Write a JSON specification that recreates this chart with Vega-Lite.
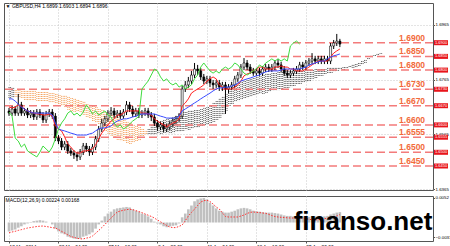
{
"$schema": "https://vega.github.io/schema/vega-lite/v6.json",
"autosize": {"type": "pad"},
"padding": {"left": 2, "top": 2, "right": 0, "bottom": 0},
"background": "white",
"spacing": 2,
"config": {
 "view": {"stroke": "#555555", "strokeWidth": 1},
 "font": "Liberation Sans"
},
"datasets": {
 "d": [
{"i":0,"o":1.6651,"h":1.6662,"l":1.6633,"c":1.6643,"t":1.6665,"k":1.6695,"g":1.6647,"a":1.6738,"b":1.6698,"z":"u","m":-0.0019,"s":-0.00218},
{"i":2,"o":1.6643,"h":1.6669,"l":1.6633,"c":1.6658,"t":1.6662,"k":1.6695,"g":1.6632,"a":1.6735,"b":1.6698,"z":"u","m":-0.0017,"s":-0.00201},
{"i":4,"o":1.6658,"h":1.6669,"l":1.6633,"c":1.6643,"t":1.6665,"k":1.6687,"g":1.6552,"a":1.6727,"b":1.6702,"z":"d","m":-0.0015,"s":-0.00187},
{"i":6,"o":1.6643,"h":1.6713,"l":1.6633,"c":1.6673,"t":1.6673,"k":1.6676,"g":1.6541,"a":1.6727,"b":1.6698,"z":"d","m":-0.0011,"s":-0.00167},
{"i":8,"o":1.6673,"h":1.6684,"l":1.6633,"c":1.6643,"t":1.6669,"k":1.6665,"g":1.6519,"a":1.6724,"b":1.6695,"z":"d","m":-0.0008,"s":-0.00151},
{"i":10,"o":1.6643,"h":1.6662,"l":1.6633,"c":1.6651,"t":1.6658,"k":1.6658,"g":1.6530,"a":1.6724,"b":1.6691,"z":"d","m":-0.0004,"s":-0.00134},
{"i":12,"o":1.6651,"h":1.6662,"l":1.6625,"c":1.6636,"t":1.6651,"k":1.6651,"g":1.6505,"a":1.6724,"b":1.6687,"z":"d","m":-0.0002,"s":-0.00117},
{"i":14,"o":1.6636,"h":1.6654,"l":1.6625,"c":1.6643,"t":1.6647,"k":1.6647,"g":1.6497,"a":1.6724,"b":1.6687,"z":"d","m":0.0001,"s":-0.00106},
{"i":16,"o":1.6643,"h":1.6654,"l":1.6618,"c":1.6629,"t":1.6643,"k":1.6643,"g":1.6490,"a":1.6724,"b":1.6687,"z":"d","m":0.0003,"s":-0.00095},
{"i":18,"o":1.6629,"h":1.6658,"l":1.6618,"c":1.6647,"t":1.6640,"k":1.6643,"g":1.6483,"a":1.6720,"b":1.6687,"z":"d","m":0.0004,"s":-0.00085},
{"i":20,"o":1.6647,"h":1.6658,"l":1.6625,"c":1.6636,"t":1.6640,"k":1.6643,"g":1.6501,"a":1.6720,"b":1.6684,"z":"d","m":0.0005,"s":-0.00078},
{"i":22,"o":1.6636,"h":1.6647,"l":1.6607,"c":1.6618,"t":1.6636,"k":1.6643,"g":1.6523,"a":1.6720,"b":1.6684,"z":"d","m":0.0004,"s":-0.00074},
{"i":24,"o":1.6618,"h":1.6651,"l":1.6607,"c":1.6640,"t":1.6636,"k":1.6643,"g":1.6512,"a":1.6720,"b":1.6684,"z":"d","m":0.0002,"s":-0.00085},
{"i":26,"o":1.6640,"h":1.6658,"l":1.6629,"c":1.6647,"t":1.6640,"k":1.6643,"g":1.6501,"a":1.6716,"b":1.6680,"z":"d","m":0,"s":-0.00095},
{"i":28,"o":1.6647,"h":1.6658,"l":1.6622,"c":1.6632,"t":1.6632,"k":1.6636,"g":1.6519,"a":1.6716,"b":1.6680,"z":"d","m":-0.0004,"s":-0.0011},
{"i":30,"o":1.6632,"h":1.6643,"l":1.6541,"c":1.6552,"t":1.6596,"k":1.6607,"g":1.6549,"a":1.6713,"b":1.6676,"z":"d","m":-0.0013,"s":-0.00117},
{"i":32,"o":1.6552,"h":1.6563,"l":1.6530,"c":1.6541,"t":1.6585,"k":1.6585,"g":1.6585,"a":1.6709,"b":1.6673,"z":"d","m":-0.0019,"s":-0.0015},
{"i":34,"o":1.6541,"h":1.6552,"l":1.6508,"c":1.6519,"t":1.6578,"k":1.6581,"g":1.6607,"a":1.6706,"b":1.6669,"z":"d","m":-0.0023,"s":-0.00187},
{"i":36,"o":1.6519,"h":1.6541,"l":1.6508,"c":1.6530,"t":1.6556,"k":1.6578,"g":1.6622,"a":1.6706,"b":1.6662,"z":"d","m":-0.0025,"s":-0.00223},
{"i":38,"o":1.6530,"h":1.6541,"l":1.6494,"c":1.6505,"t":1.6530,"k":1.6574,"g":1.6643,"a":1.6702,"b":1.6654,"z":"d","m":-0.0030,"s":-0.0026},
{"i":40,"o":1.6505,"h":1.6516,"l":1.6487,"c":1.6497,"t":1.6519,"k":1.6570,"g":1.6651,"a":1.6698,"b":1.6651,"z":"d","m":-0.0032,"s":-0.00297},
{"i":42,"o":1.6497,"h":1.6508,"l":1.6476,"c":1.6490,"t":1.6505,"k":1.6567,"g":1.6636,"a":1.6695,"b":1.6647,"z":"d","m":-0.0034,"s":-0.00316},
{"i":44,"o":1.6490,"h":1.6501,"l":1.6468,"c":1.6483,"t":1.6497,"k":1.6563,"g":1.6643,"a":1.6691,"b":1.6647,"z":"d","m":-0.0035,"s":-0.00333},
{"i":46,"o":1.6483,"h":1.6512,"l":1.6472,"c":1.6501,"t":1.6497,"k":1.6563,"g":1.6632,"a":1.6687,"b":1.6643,"z":"d","m":-0.0034,"s":-0.00346},
{"i":48,"o":1.6501,"h":1.6534,"l":1.6490,"c":1.6523,"t":1.6505,"k":1.6563,"g":1.6647,"a":1.6684,"b":1.6636,"z":"d","m":-0.0030,"s":-0.00348},
{"i":50,"o":1.6523,"h":1.6534,"l":1.6501,"c":1.6512,"t":1.6505,"k":1.6563,"g":1.6673,"a":1.6676,"b":1.6629,"z":"d","m":-0.0028,"s":-0.00331},
{"i":52,"o":1.6512,"h":1.6523,"l":1.6487,"c":1.6501,"t":1.6508,"k":1.6567,"g":1.6658,"a":1.6673,"b":1.6622,"z":"d","m":-0.0025,"s":-0.00318},
{"i":54,"o":1.6501,"h":1.6530,"l":1.6490,"c":1.6519,"t":1.6512,"k":1.6570,"g":1.6640,"a":1.6669,"b":1.6614,"z":"d","m":-0.0021,"s":-0.00286},
{"i":56,"o":1.6519,"h":1.6560,"l":1.6508,"c":1.6549,"t":1.6527,"k":1.6578,"g":1.6651,"a":1.6665,"b":1.6607,"z":"d","m":-0.0013,"s":-0.00229},
{"i":58,"o":1.6549,"h":1.6596,"l":1.6538,"c":1.6585,"t":1.6549,"k":1.6585,"g":1.6636,"a":1.6658,"b":1.6600,"z":"d","m":-0.0004,"s":-0.0017},
{"i":60,"o":1.6585,"h":1.6622,"l":1.6574,"c":1.6607,"t":1.6570,"k":1.6589,"g":1.6643,"a":1.6654,"b":1.6592,"z":"d","m":0.0004,"s":-0.00108},
{"i":62,"o":1.6607,"h":1.6633,"l":1.6596,"c":1.6622,"t":1.6585,"k":1.6589,"g":1.6651,"a":1.6647,"b":1.6578,"z":"d","m":0.0013,"s":-0.00042},
{"i":64,"o":1.6622,"h":1.6654,"l":1.6611,"c":1.6643,"t":1.6600,"k":1.6592,"g":1.6636,"a":1.6643,"b":1.6567,"z":"d","m":0.0019,"s":0.00028},
{"i":66,"o":1.6643,"h":1.6665,"l":1.6633,"c":1.6651,"t":1.6614,"k":1.6596,"g":1.6629,"a":1.6636,"b":1.6560,"z":"d","m":0.0023,"s":0.00095},
{"i":68,"o":1.6651,"h":1.6662,"l":1.6625,"c":1.6636,"t":1.6622,"k":1.6607,"g":1.6607,"a":1.6632,"b":1.6552,"z":"d","m":0.0028,"s":0.00159},
{"i":70,"o":1.6636,"h":1.6654,"l":1.6625,"c":1.6643,"t":1.6636,"k":1.6614,"g":1.6592,"a":1.6629,"b":1.6545,"z":"d","m":0.0030,"s":0.00223},
{"i":72,"o":1.6643,"h":1.6654,"l":1.6622,"c":1.6632,"t":1.6636,"k":1.6618,"g":1.6600,"a":1.6622,"b":1.6541,"z":"d","m":0.0031,"s":0.00244},
{"i":74,"o":1.6632,"h":1.6658,"l":1.6622,"c":1.6647,"t":1.6643,"k":1.6622,"g":1.6585,"a":1.6618,"b":1.6538,"z":"d","m":0.0032,"s":0.00259},
{"i":76,"o":1.6647,"h":1.6687,"l":1.6636,"c":1.6673,"t":1.6651,"k":1.6622,"g":1.6592,"a":1.6611,"b":1.6534,"z":"d","m":0.0033,"s":0.00273},
{"i":78,"o":1.6673,"h":1.6684,"l":1.6647,"c":1.6658,"t":1.6651,"k":1.6625,"g":1.6603,"a":1.6607,"b":1.6530,"z":"d","m":0.0032,"s":0.00282},
{"i":80,"o":1.6658,"h":1.6669,"l":1.6629,"c":1.6640,"t":1.6651,"k":1.6629,"g":1.6614,"a":1.6600,"b":1.6534,"z":"d","m":0.0028,"s":0.00273},
{"i":82,"o":1.6640,"h":1.6662,"l":1.6629,"c":1.6651,"t":1.6651,"k":1.6632,"g":1.6622,"a":1.6596,"b":1.6538,"z":"d","m":0.0025,"s":0.00252},
{"i":84,"o":1.6651,"h":1.6662,"l":1.6625,"c":1.6636,"t":1.6651,"k":1.6636,"g":1.6632,"a":1.6592,"b":1.6541,"z":"d","m":0.0023,"s":0.00231},
{"i":86,"o":1.6636,"h":1.6654,"l":1.6625,"c":1.6643,"t":1.6643,"k":1.6640,"g":1.6731,"a":1.6585,"b":1.6552,"z":"d","m":0.0019,"s":0.00208},
{"i":88,"o":1.6643,"h":1.6662,"l":1.6633,"c":1.6651,"t":1.6643,"k":1.6640,"g":1.6746,"a":1.6578,"b":1.6563,"z":"d","m":0.0017,"s":0.0018},
{"i":90,"o":1.6651,"h":1.6662,"l":1.6625,"c":1.6636,"t":1.6640,"k":1.6640,"g":1.6760,"a":1.6585,"b":1.6563,"z":"u","m":0.0013,"s":0.00155},
{"i":92,"o":1.6636,"h":1.6647,"l":1.6614,"c":1.6629,"t":1.6636,"k":1.6640,"g":1.6782,"a":1.6600,"b":1.6563,"z":"u","m":0.0008,"s":0.00129},
{"i":94,"o":1.6629,"h":1.6640,"l":1.6596,"c":1.6607,"t":1.6622,"k":1.6640,"g":1.6804,"a":1.6607,"b":1.6563,"z":"u","m":0.0002,"s":0.00095},
{"i":96,"o":1.6607,"h":1.6618,"l":1.6578,"c":1.6592,"t":1.6614,"k":1.6636,"g":1.6797,"a":1.6611,"b":1.6567,"z":"u","m":-0.0002,"s":0.00053},
{"i":98,"o":1.6592,"h":1.6611,"l":1.6581,"c":1.6600,"t":1.6607,"k":1.6632,"g":1.6775,"a":1.6614,"b":1.6567,"z":"u","m":-0.0004,"s":0.00015},
{"i":100,"o":1.6600,"h":1.6611,"l":1.6574,"c":1.6585,"t":1.6600,"k":1.6629,"g":1.6760,"a":1.6618,"b":1.6567,"z":"u","m":-0.0008,"s":-0.00023},
{"i":102,"o":1.6585,"h":1.6603,"l":1.6574,"c":1.6592,"t":1.6592,"k":1.6625,"g":1.6768,"a":1.6622,"b":1.6570,"z":"u","m":-0.0010,"s":-0.00064},
{"i":104,"o":1.6592,"h":1.6614,"l":1.6581,"c":1.6603,"t":1.6600,"k":1.6625,"g":1.6753,"a":1.6625,"b":1.6570,"z":"u","m":-0.0008,"s":-0.00095},
{"i":106,"o":1.6603,"h":1.6625,"l":1.6592,"c":1.6614,"t":1.6607,"k":1.6625,"g":1.6746,"a":1.6629,"b":1.6570,"z":"u","m":-0.0007,"s":-0.00108},
{"i":108,"o":1.6614,"h":1.6633,"l":1.6603,"c":1.6622,"t":1.6611,"k":1.6625,"g":1.6753,"a":1.6632,"b":1.6574,"z":"u","m":-0.0006,"s":-0.00108},
{"i":110,"o":1.6622,"h":1.6643,"l":1.6611,"c":1.6632,"t":1.6622,"k":1.6632,"g":1.6738,"a":1.6640,"b":1.6574,"z":"u","m":-0.0002,"s":-0.00081},
{"i":112,"o":1.6632,"h":1.6742,"l":1.6622,"c":1.6731,"t":1.6669,"k":1.6651,"g":1.6746,"a":1.6647,"b":1.6578,"z":"u","m":0.0011,"s":-0.00053},
{"i":114,"o":1.6731,"h":1.6760,"l":1.6720,"c":1.6746,"t":1.6680,"k":1.6658,"g":1.6731,"a":1.6647,"b":1.6581,"z":"u","m":0.0019,"s":0.00036},
{"i":116,"o":1.6746,"h":1.6775,"l":1.6735,"c":1.6760,"t":1.6695,"k":1.6665,"g":1.6738,"a":1.6651,"b":1.6581,"z":"u","m":0.0028,"s":0.00138},
{"i":118,"o":1.6760,"h":1.6797,"l":1.6749,"c":1.6782,"t":1.6716,"k":1.6673,"g":1.6746,"a":1.6651,"b":1.6585,"z":"u","m":0.0036,"s":0.00212},
{"i":120,"o":1.6782,"h":1.6826,"l":1.6771,"c":1.6804,"t":1.6724,"k":1.6680,"g":1.6768,"a":1.6654,"b":1.6589,"z":"u","m":0.0045,"s":0.00286},
{"i":122,"o":1.6804,"h":1.6819,"l":1.6782,"c":1.6797,"t":1.6731,"k":1.6687,"g":1.6782,"a":1.6654,"b":1.6592,"z":"u","m":0.0049,"s":0.0036},
{"i":124,"o":1.6797,"h":1.6808,"l":1.6764,"c":1.6775,"t":1.6738,"k":1.6695,"g":1.6811,"a":1.6658,"b":1.6596,"z":"u","m":0.0051,"s":0.00435},
{"i":126,"o":1.6775,"h":1.6786,"l":1.6749,"c":1.6760,"t":1.6746,"k":1.6702,"g":1.6826,"a":1.6662,"b":1.6596,"z":"u","m":0.0052,"s":0.00462},
{"i":128,"o":1.6760,"h":1.6779,"l":1.6749,"c":1.6768,"t":1.6760,"k":1.6709,"g":1.6811,"a":1.6665,"b":1.6600,"z":"u","m":0.0049,"s":0.00473},
{"i":130,"o":1.6768,"h":1.6779,"l":1.6738,"c":1.6753,"t":1.6768,"k":1.6716,"g":1.6797,"a":1.6669,"b":1.6603,"z":"u","m":0.0042,"s":0.00445},
{"i":132,"o":1.6753,"h":1.6764,"l":1.6731,"c":1.6746,"t":1.6775,"k":1.6724,"g":1.6789,"a":1.6680,"b":1.6611,"z":"u","m":0.0036,"s":0.00392},
{"i":134,"o":1.6746,"h":1.6764,"l":1.6735,"c":1.6753,"t":1.6768,"k":1.6731,"g":1.6797,"a":1.6687,"b":1.6618,"z":"u","m":0.0030,"s":0.00329},
{"i":136,"o":1.6753,"h":1.6764,"l":1.6724,"c":1.6738,"t":1.6746,"k":1.6735,"g":1.6789,"a":1.6695,"b":1.6625,"z":"u","m":0.0025,"s":0.00286},
{"i":138,"o":1.6738,"h":1.6757,"l":1.6724,"c":1.6746,"t":1.6738,"k":1.6735,"g":1.6804,"a":1.6702,"b":1.6636,"z":"u","m":0.0023,"s":0.00206},
{"i":140,"o":1.6746,"h":1.6757,"l":1.6640,"c":1.6731,"t":1.6731,"k":1.6738,"g":1.6811,"a":1.6713,"b":1.6651,"z":"u","m":0.0021,"s":0.00127},
{"i":142,"o":1.6731,"h":1.6749,"l":1.6716,"c":1.6738,"t":1.6731,"k":1.6738,"g":1.6804,"a":1.6731,"b":1.6669,"z":"u","m":0.0021,"s":0.00117},
{"i":144,"o":1.6738,"h":1.6757,"l":1.6727,"c":1.6746,"t":1.6731,"k":1.6742,"g":1.6811,"a":1.6746,"b":1.6676,"z":"u","m":0.0023,"s":0.00117},
{"i":146,"o":1.6746,"h":1.6779,"l":1.6735,"c":1.6768,"t":1.6738,"k":1.6746,"g":1.6826,"a":1.6749,"b":1.6684,"z":"u","m":0.0025,"s":0.00117},
{"i":148,"o":1.6768,"h":1.6793,"l":1.6757,"c":1.6782,"t":1.6746,"k":1.6753,"g":1.6819,"a":1.6753,"b":1.6687,"z":"u","m":0.0028,"s":0.00117},
{"i":150,"o":1.6782,"h":1.6822,"l":1.6771,"c":1.6811,"t":1.6760,"k":1.6760,"g":1.6804,"a":1.6757,"b":1.6691,"z":"u","m":0.0030,"s":0.00138},
{"i":152,"o":1.6811,"h":1.6844,"l":1.6800,"c":1.6826,"t":1.6779,"k":1.6764,"g":1.6789,"a":1.6760,"b":1.6695,"z":"u","m":0.0031,"s":0.00159},
{"i":154,"o":1.6826,"h":1.6837,"l":1.6800,"c":1.6811,"t":1.6786,"k":1.6768,"g":1.6782,"a":1.6764,"b":1.6698,"z":"u","m":0.0030,"s":0.00191},
{"i":156,"o":1.6811,"h":1.6822,"l":1.6786,"c":1.6797,"t":1.6789,"k":1.6771,"g":1.6789,"a":1.6768,"b":1.6702,"z":"u","m":0.0028,"s":0.00216},
{"i":158,"o":1.6797,"h":1.6808,"l":1.6779,"c":1.6789,"t":1.6797,"k":1.6775,"g":1.6797,"a":1.6771,"b":1.6706,"z":"u","m":0.0025,"s":0.00223},
{"i":160,"o":1.6789,"h":1.6808,"l":1.6779,"c":1.6797,"t":1.6804,"k":1.6779,"g":1.6804,"a":1.6775,"b":1.6709,"z":"u","m":0.0024,"s":0.00216},
{"i":162,"o":1.6797,"h":1.6808,"l":1.6779,"c":1.6789,"t":1.6811,"k":1.6782,"g":1.6819,"a":1.6779,"b":1.6713,"z":"u","m":0.0023,"s":0.0021},
{"i":164,"o":1.6789,"h":1.6815,"l":1.6779,"c":1.6804,"t":1.6811,"k":1.6789,"g":1.6811,"a":1.6782,"b":1.6713,"z":"u","m":0.0022,"s":0.00201},
{"i":166,"o":1.6804,"h":1.6822,"l":1.6793,"c":1.6811,"t":1.6804,"k":1.6793,"g":1.6826,"a":1.6786,"b":1.6716,"z":"u","m":0.0021,"s":0.00195},
{"i":168,"o":1.6811,"h":1.6822,"l":1.6793,"c":1.6804,"t":1.6804,"k":1.6797,"g":1.6833,"a":1.6786,"b":1.6720,"z":"u","m":0.0021,"s":0.00172},
{"i":170,"o":1.6804,"h":1.6822,"l":1.6793,"c":1.6811,"t":1.6804,"k":1.6797,"g":1.6841,"a":1.6789,"b":1.6724,"z":"u","m":0.0021,"s":0.00148},
{"i":172,"o":1.6811,"h":1.6837,"l":1.6800,"c":1.6826,"t":1.6811,"k":1.6797,"g":1.6833,"a":1.6789,"b":1.6727,"z":"u","m":0.0020,"s":0.00127},
{"i":174,"o":1.6826,"h":1.6841,"l":1.6808,"c":1.6819,"t":1.6811,"k":1.6797,"g":1.6841,"a":1.6793,"b":1.6727,"z":"u","m":0.0019,"s":0.00117},
{"i":176,"o":1.6819,"h":1.6830,"l":1.6793,"c":1.6804,"t":1.6815,"k":1.6800,"g":1.6833,"a":1.6793,"b":1.6731,"z":"u","m":0.0017,"s":0.0011},
{"i":178,"o":1.6804,"h":1.6815,"l":1.6779,"c":1.6789,"t":1.6811,"k":1.6804,"g":1.6841,"a":1.6797,"b":1.6735,"z":"u","m":0.0015,"s":0.00106},
{"i":180,"o":1.6789,"h":1.6800,"l":1.6771,"c":1.6782,"t":1.6811,"k":1.6804,"g":1.6833,"a":1.6797,"b":1.6735,"z":"u","m":0.0014,"s":0.001},
{"i":182,"o":1.6782,"h":1.6800,"l":1.6771,"c":1.6789,"t":1.6804,"k":1.6804,"g":1.6888,"a":1.6797,"b":1.6738,"z":"u","m":0.0014,"s":0.00095},
{"i":184,"o":1.6789,"h":1.6808,"l":1.6779,"c":1.6797,"t":1.6804,"k":1.6804,"g":1.6899,"a":1.6797,"b":1.6742,"z":"u","m":0.0013,"s":0.00095},
{"i":186,"o":1.6797,"h":1.6815,"l":1.6786,"c":1.6804,"t":1.6797,"k":1.6804,"g":1.6906,"a":1.6797,"b":1.6746,"z":"u","m":0.0013,"s":0.00095},
{"i":188,"o":1.6804,"h":1.6830,"l":1.6793,"c":1.6819,"t":1.6797,"k":1.6804,"g":1.6895,"a":1.6797,"b":1.6749,"z":"u","m":0.0014,"s":0.00095},
{"i":190,"o":1.6819,"h":1.6830,"l":1.6800,"c":1.6811,"t":1.6797,"k":1.6808,"a":1.6797,"b":1.6753,"z":"u","m":0.0013,"s":0.00095},
{"i":192,"o":1.6811,"h":1.6837,"l":1.6800,"c":1.6826,"t":1.6804,"k":1.6811,"a":1.6800,"b":1.6757,"z":"u","m":0.0012,"s":0.00083},
{"i":194,"o":1.6826,"h":1.6844,"l":1.6815,"c":1.6833,"t":1.6811,"k":1.6819,"a":1.6800,"b":1.6760,"z":"u","m":0.0012,"s":0.00068},
{"i":196,"o":1.6833,"h":1.6862,"l":1.6822,"c":1.6841,"t":1.6819,"k":1.6822,"a":1.6800,"b":1.6768,"z":"u","m":0.0013,"s":0.00059},
{"i":198,"o":1.6841,"h":1.6852,"l":1.6822,"c":1.6833,"t":1.6826,"k":1.6826,"a":1.6804,"b":1.6771,"z":"u","m":0.0013,"s":0.00053},
{"i":200,"o":1.6833,"h":1.6852,"l":1.6822,"c":1.6841,"t":1.6833,"k":1.6830,"a":1.6804,"b":1.6775,"z":"u","m":0.0012,"s":0.00059},
{"i":202,"o":1.6841,"h":1.6852,"l":1.6822,"c":1.6833,"t":1.6833,"k":1.6833,"a":1.6804,"b":1.6779,"z":"u","m":0.0012,"s":0.0007},
{"i":204,"o":1.6833,"h":1.6852,"l":1.6822,"c":1.6841,"t":1.6833,"k":1.6833,"a":1.6804,"b":1.6782,"z":"u","m":0.0013,"s":0.00081},
{"i":206,"o":1.6841,"h":1.6852,"l":1.6822,"c":1.6833,"t":1.6833,"k":1.6841,"a":1.6808,"b":1.6786,"z":"u","m":0.0014,"s":0.00091},
{"i":208,"o":1.6833,"h":1.6899,"l":1.6822,"c":1.6888,"t":1.6848,"k":1.6848,"a":1.6808,"b":1.6789,"z":"u","m":0.0017,"s":0.001},
{"i":210,"o":1.6888,"h":1.6910,"l":1.6877,"c":1.6899,"t":1.6862,"k":1.6852,"a":1.6808,"b":1.6793,"z":"u","m":0.0019,"s":0.00117},
{"i":212,"o":1.6899,"h":1.6932,"l":1.6888,"c":1.6906,"t":1.6870,"k":1.6855,"a":1.6808,"b":1.6797,"z":"u","m":0.0021,"s":0.00138},
{"i":214,"o":1.6906,"h":1.6914,"l":1.6884,"c":1.6895,"t":1.6877,"k":1.6859,"a":1.6808,"b":1.6800,"z":"u","m":0.0022,"s":0.00168},
{"i":216,"a":1.6811,"b":1.6800,"z":"u"},
{"i":218,"a":1.6811,"b":1.6804,"z":"u"},
{"i":220,"a":1.6815,"b":1.6808,"z":"u"},
{"i":222,"a":1.6819,"b":1.6808,"z":"u"},
{"i":224,"a":1.6822,"b":1.6811,"z":"u"},
{"i":226,"a":1.6826,"b":1.6815,"z":"u"},
{"i":228,"a":1.6833,"b":1.6822,"z":"u"},
{"i":230,"a":1.6837,"b":1.6826,"z":"u"},
{"i":232,"a":1.6844,"b":1.6837,"z":"u"},
{"i":234,"a":1.6852,"b":1.6844,"z":"u"},
{"i":236,"a":1.6855,"b":1.6848,"z":"u"},
{"i":238,"a":1.6859,"b":1.6855,"z":"u"},
{"i":240,"a":1.6862,"b":1.6859,"z":"u"}
 ],
 "lv": [
  {"v":1.69,"t":"1.6900"},{"v":1.685,"t":"1.6850"},{"v":1.68,"t":"1.6800"},{"v":1.673,"t":"1.6730"},{"v":1.667,"t":"1.6670"},{"v":1.66,"t":"1.6600"},{"v":1.6555,"t":"1.6555"},{"v":1.65,"t":"1.6500"},{"v":1.645,"t":"1.6450"}
 ],
 "cap": [{"t":"▼ GBPUSD,H4  1.6899 1.6903 1.6894 1.6896"}],
 "mcap": [{"t":"MACD(12,26,9) 0.00224 0.00168"}],
 "wm": [{"t":"finanso.net"}]
},
"vconcat": [
 {
  "width": 429, "height": 187,
  "data": {"name": "d"},
  "layer": [
   {"transform": [{"filter": "isValid(datum.a)"}],
    "mark": {"type": "rule", "strokeDash": [1, 1], "strokeWidth": 1},
    "encoding": {
     "x": {"field": "i", "type": "quantitative", "scale": {"domain": [0, 271], "nice": false, "zero": false},
       "axis": {"values": [0,16,32,48,64,80,96,112,128,144,160,176,192,208], "labels": false, "ticks": false, "domain": false, "grid": true, "gridColor": "#c8c8c8", "gridDash": [1, 2], "title": null}},
     "y": {"field": "a", "type": "quantitative", "scale": {"domain": [1.63624, 1.70449], "nice": false, "zero": false},
       "axis": {"orient": "right", "values": [1.6365,1.6415,1.6465,1.6515,1.6565,1.6615,1.6665,1.6715,1.6765,1.6815,1.6865,1.6915,1.6965,1.7015], "format": ".4f", "grid": true, "gridColor": "#c8c8c8", "gridDash": [1, 2], "domain": false, "tickSize": 1.5, "tickColor": "#555555", "labelFontSize": 4.4, "labelPadding": 0.5, "labelColor": "#000000", "labelFont": "Liberation Sans", "labelOverlap": false, "labelBound": false, "title": null}},
     "y2": {"field": "b"},
     "color": {"field": "z", "type": "nominal", "scale": {"domain": ["u", "d"], "range": ["#5a5a5a", "#f4a460"]}, "legend": null}
    }},
   {"transform": [{"filter": "isValid(datum.a)"}],
    "mark": {"type": "rule", "strokeDash": [1, 1], "strokeWidth": 1, "xOffset": 1.6},
    "encoding": {
     "x": {"field": "i", "type": "quantitative"},
     "y": {"field": "a", "type": "quantitative"},
     "y2": {"field": "b"},
     "color": {"field": "z", "type": "nominal", "legend": null}
    }},
   {"data": {"name": "lv"},
    "mark": {"type": "rule", "color": "#f37b7b", "strokeDash": [8, 4], "strokeWidth": 1.5},
    "encoding": {"y": {"field": "v", "type": "quantitative"}}},
   {"transform": [{"filter": "isValid(datum.c)"}],
    "mark": {"type": "rule", "color": "#000000", "strokeWidth": 1},
    "encoding": {
     "x": {"field": "i", "type": "quantitative"},
     "y": {"field": "l", "type": "quantitative"},
     "y2": {"field": "h"}}},
   {"transform": [{"filter": "isValid(datum.c)"}],
    "mark": {"type": "bar", "size": 2, "stroke": "#000000", "strokeWidth": 0.6},
    "encoding": {
     "x": {"field": "i", "type": "quantitative"},
     "y": {"field": "o", "type": "quantitative"},
     "y2": {"field": "c"},
     "fill": {"condition": {"test": "datum.c >= datum.o", "value": "#ffffff"}, "value": "#000000"}}},
   {"transform": [{"filter": "isValid(datum.t)"}],
    "mark": {"type": "line", "color": "#ff2020", "strokeWidth": 1},
    "encoding": {
     "x": {"field": "i", "type": "quantitative"},
     "y": {"field": "t", "type": "quantitative"}}},
   {"transform": [{"filter": "isValid(datum.k)"}],
    "mark": {"type": "line", "color": "#3a4cff", "strokeWidth": 1},
    "encoding": {
     "x": {"field": "i", "type": "quantitative"},
     "y": {"field": "k", "type": "quantitative"}}},
   {"transform": [{"filter": "isValid(datum.g)"}],
    "mark": {"type": "line", "color": "#3fdc3f", "strokeWidth": 1},
    "encoding": {
     "x": {"field": "i", "type": "quantitative"},
     "y": {"field": "g", "type": "quantitative"}}},
   {"data": {"name": "lv"},
    "mark": {"type": "text", "x": {"expr": "width * 266 / 271"}, "align": "right", "baseline": "alphabetic", "dy": -2, "fontSize": 8.5, "fontWeight": "bold", "color": "#f26a3a"},
    "encoding": {
     "y": {"field": "v", "type": "quantitative"},
     "text": {"field": "t"}}},
   {"data": {"name": "lv"},
    "mark": {"type": "rule", "x": {"expr": "width + 1"}, "x2": {"expr": "width + 15"}, "strokeWidth": 5, "color": "#e8141b"},
    "encoding": {
     "y": {"field": "v", "type": "quantitative"}}},
   {"data": {"name": "lv"},
    "mark": {"type": "text", "x": {"expr": "width + 8"}, "align": "center", "baseline": "middle", "fontSize": 4, "color": "#ffffff"},
    "encoding": {
     "y": {"field": "v", "type": "quantitative"},
     "text": {"field": "t"}}},
   {"data": {"name": "cap"},
    "mark": {"type": "text", "x": {"expr": "width / 271"}, "align": "left", "baseline": "top", "fontSize": 5, "color": "#000000"},
    "encoding": {
     "y": {"datum": 1.7041, "type": "quantitative"},
     "text": {"field": "t"}}}
  ]
 },
 {
  "width": 429, "height": 45,
  "data": {"name": "d"},
  "layer": [
   {"transform": [{"filter": "isValid(datum.m)"}],
    "mark": {"type": "bar", "size": 2.6, "color": "#c0c0c0"},
    "encoding": {
     "x": {"field": "i", "type": "quantitative", "scale": {"domain": [0, 271], "nice": false, "zero": false},
       "axis": {"values": [0,16,32,48,64,80,96,112,128,144,160,176,192,208], "labelExpr": "['12 Mar 2014','17 Mar 12:00','20 Mar 04:00','24 Mar 20:00','27 Mar 12:00','1 Apr 04:00','3 Apr 20:00','8 Apr 12:00','11 Apr 04:00','15 Apr 20:00','18 Apr 12:00','23 Apr 04:00','25 Apr 20:00','30 Apr 12:00'][round(datum.value/16)]", "labelAlign": "left", "labelFontSize": 4.8, "labelPadding": 1, "labelColor": "#000000", "labelFont": "Liberation Sans", "labelOverlap": false, "labelBound": false, "tickSize": 2, "tickColor": "#555555", "domain": false, "grid": true, "gridColor": "#c8c8c8", "gridDash": [1, 2], "title": null}},
     "y": {"field": "m", "type": "quantitative", "scale": {"domain": [-0.00392, 0.00562], "nice": false, "zero": false},
       "axis": {"orient": "right", "values": [0.0052, 0, -0.0031], "labelExpr": "datum.value == 0 ? '0.00' : format(datum.value, '.4f')", "labelFontSize": 4.4, "labelPadding": 0.5, "labelColor": "#000000", "labelFont": "Liberation Sans", "labelOverlap": false, "labelBound": false, "tickSize": 1.5, "tickColor": "#555555", "domain": false, "grid": false, "title": null}},
     "y2": {"datum": 0}}},
   {"transform": [{"filter": "isValid(datum.s)"}],
    "mark": {"type": "line", "color": "#ff3030", "strokeWidth": 1, "strokeDash": [1.5, 1.5]},
    "encoding": {
     "x": {"field": "i", "type": "quantitative"},
     "y": {"field": "s", "type": "quantitative"}}},
   {"data": {"name": "mcap"},
    "mark": {"type": "text", "x": {"expr": "width / 271"}, "align": "left", "baseline": "top", "fontSize": 5, "color": "#000000"},
    "encoding": {
     "y": {"datum": 0.0053, "type": "quantitative"},
     "text": {"field": "t"}}},
   {"data": {"name": "wm"},
    "mark": {"type": "text", "x": {"expr": "width * 183 / 271"}, "align": "left", "baseline": "alphabetic", "fontSize": 26, "fontWeight": "bold", "font": "Liberation Sans", "color": "#000000"},
    "encoding": {
     "y": {"datum": -0.0016, "type": "quantitative"},
     "text": {"field": "t"}}}
  ]
 }
]
}
